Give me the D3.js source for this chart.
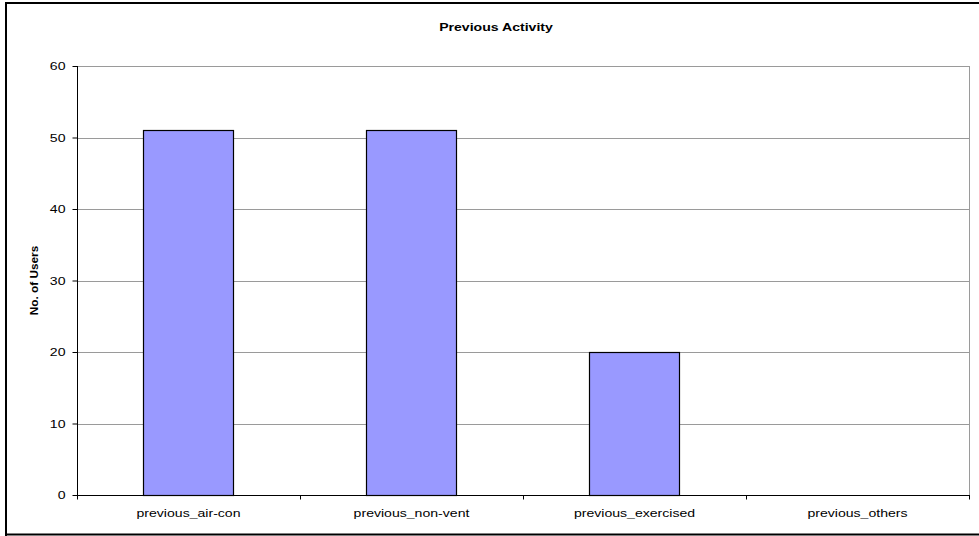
<!DOCTYPE html>
<html>
<head>
<meta charset="utf-8">
<script src="https://cdn.jsdelivr.net/npm/d3@7"></script>
<style>
  html, body { margin: 0; padding: 0; background: #fff; }
  svg { display: block; }
  text { font-family: "Liberation Sans", Arial, sans-serif; fill: #000; }
</style>
</head>
<body>
<svg id="chart" width="979" height="536"></svg>
<script>
// Previous activity reported by users
const categories = ["previous_air-con", "previous_non-vent", "previous_exercised", "previous_others"];
const users = [51, 51, 20, 0];
const yTicks = [0, 10, 20, 30, 40, 50, 60];
const chartTitle = "Previous Activity";
const yTitle = "No. of Users";

const svg = d3.select("#chart");
const W = 979, H = 536;
const plot = { left: 77, right: 969, top: 66, bottom: 495 };
const SX = 1.28; // wide horizontal text rendering

// Outer chart frame (left, top, bottom edges)
svg.append("path")
  .attr("d", `M6,${H} V3 H${W} M6,534.5 H${W}`)
  .attr("fill", "none")
  .attr("stroke", "#000")
  .attr("stroke-width", 2);

const x = d3.scaleBand()
  .domain(categories)
  .range([plot.left, plot.right])
  .paddingInner(0)
  .paddingOuter(0);

const y = d3.scaleLinear()
  .domain([0, 60])
  .range([plot.bottom, plot.top]);

// Horizontal gridlines
svg.append("g")
  .selectAll("line")
  .data(yTicks.filter(d => d > 0))
  .join("line")
  .attr("x1", plot.left)
  .attr("x2", plot.right)
  .attr("y1", d => Math.round(y(d)) + 0.5)
  .attr("y2", d => Math.round(y(d)) + 0.5)
  .attr("stroke", "#9a9a9a")
  .attr("stroke-width", 1);

// Plot area right edge
svg.append("line")
  .attr("x1", plot.right + 0.5).attr("x2", plot.right + 0.5)
  .attr("y1", plot.top).attr("y2", plot.bottom)
  .attr("stroke", "#9a9a9a");

// Bars
const barW = x.bandwidth() * 0.404;
svg.append("g")
  .selectAll("rect")
  .data(categories.map((c, i) => ({ c, v: users[i] })).filter(d => d.v > 0))
  .join("rect")
  .attr("x", d => Math.round(x(d.c) + (x.bandwidth() - barW) / 2) + 0.5)
  .attr("y", d => Math.round(y(d.v)) + 0.5)
  .attr("width", Math.round(barW))
  .attr("height", d => Math.round(y(0)) - Math.round(y(d.v)))
  .attr("fill", "#9999ff")
  .attr("stroke", "#000")
  .attr("stroke-width", 1.2);

// Y axis
const yAxis = svg.append("g")
  .attr("transform", `translate(${plot.left + 0.5},0)`)
  .call(d3.axisLeft(y).tickValues(yTicks).tickSize(5).tickPadding(6).tickFormat(d3.format("d")));
yAxis.select(".domain").attr("stroke", "#000").attr("d", `M0,${plot.top}V${plot.bottom}`);
yAxis.selectAll(".tick line").attr("stroke", "#000");
yAxis.selectAll(".tick text")
  .style("font-size", "11px")
  .attr("fill", "#000")
  .attr("x", -12 / SX)
  .attr("transform", `scale(${SX},1)`);

// X axis with ticks at category boundaries
const xAxisG = svg.append("g")
  .attr("transform", `translate(0,${plot.bottom + 0.5})`);
xAxisG.append("line")
  .attr("x1", plot.left).attr("x2", plot.right + 1)
  .attr("stroke", "#000");
const bounds = categories.map(c => x(c)).concat([plot.right]);
xAxisG.selectAll("line.tk")
  .data(bounds)
  .join("line")
  .attr("class", "tk")
  .attr("x1", d => Math.round(d) + 0.5)
  .attr("x2", d => Math.round(d) + 0.5)
  .attr("y1", 0).attr("y2", 4)
  .attr("stroke", "#000");
xAxisG.selectAll("text")
  .data(categories)
  .join("text")
  .attr("transform", d => `translate(${x(d) + x.bandwidth() / 2},21) scale(${SX},1)`)
  .attr("text-anchor", "middle")
  .style("font-size", "11px")
  .text(d => d);

// Title
svg.append("text")
  .attr("transform", `translate(496,30.5) scale(${SX},1)`)
  .attr("text-anchor", "middle")
  .style("font-size", "11px")
  .style("font-weight", "bold")
  .text(chartTitle);

// Y axis title
svg.append("text")
  .attr("transform", `translate(38,${(plot.top + plot.bottom) / 2}) rotate(-90) scale(1.18,1)`)
  .attr("text-anchor", "middle")
  .style("font-size", "10px")
  .style("font-weight", "bold")
  .text(yTitle);
</script>
</body>
</html>
